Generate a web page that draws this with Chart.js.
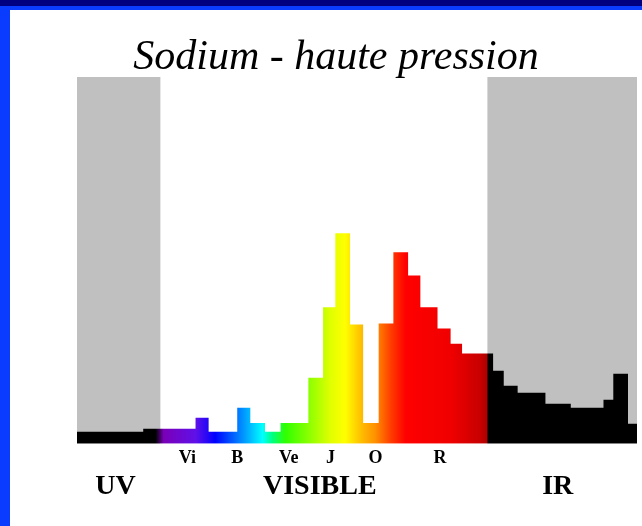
<!DOCTYPE html>
<html>
<head>
<meta charset="utf-8">
<script src="https://cdn.jsdelivr.net/npm/chart.js@4"></script>
<style>
  body { margin: 0; background: #fff; width: 642px; height: 526px; overflow: hidden; position: relative; }
  #topbar { position: absolute; left: 0; top: 0; width: 642px; height: 6px; background: #000080; }
  #topbar2 { position: absolute; left: 0; top: 6px; width: 642px; height: 4px; background: #0a3cff; }
  #leftbar { position: absolute; left: 0; top: 6px; width: 10px; height: 520px; background: #0a3cff; }
  #wrap { position: absolute; left: 10px; top: 10px; width: 632px; height: 516px; }
</style>
</head>
<body>
<div id="topbar"></div>
<div id="topbar2"></div>
<div id="leftbar"></div>
<div id="wrap"><canvas id="spectre"></canvas></div>
<script>
// bin edges (nm) and relative intensity of each bin
const binEdges = [278, 359, 380, 423, 439, 474, 490, 508, 527, 561, 579, 594, 612, 628, 647, 665, 683, 698, 719, 735, 749, 787, 800, 817, 851, 882, 922, 934, 952, 963]
const intensity = [3.3, 4.1, 4.1, 7.1, 3.3, 9.8, 5.7, 3.3, 5.7, 18.0, 37.2, 57.4, 32.5, 5.7, 32.8, 52.2, 45.9, 37.2, 31.4, 27.3, 24.6, 19.9, 15.8, 13.9, 10.9, 9.8, 12.0, 19.1, 5.5]

// invisible domains (UV / IR) shown as grey bands
const bandEdges = [278, 380, 780, 963]
const bandLevel = [100, 0, 100]

const colourNames = ['Vi', 'B', 'Ve', 'J', 'O', 'R']
const colourPos = [413, 474, 537, 588, 643, 722]
const domainNames = ['UV', 'VISIBLE', 'IR']
const domainPos = [325, 575, 866]

// colour of the light along the wavelength axis
const gradNm = [374, 384, 423, 447, 484, 505, 517, 533, 588, 606, 625, 643, 661, 680, 735, 771, 779, 781]
const gradCol = ['#000000', '#7a00b8', '#6010e8', '#0000ff', '#00a0ff', '#00ffff', '#00ff80', '#30ff00', '#e0ff00', '#ffff00', '#ffc000', '#ff9000', '#ff4000', '#ff0000', '#f00000', '#c80000', '#b00000', '#000000']

const toSteps = (edges, vals) => edges.map((x, i) => ({x: x, y: i < vals.length ? vals[i] : vals[vals.length - 1]}))

function spectrumFill(context) {
  const chart = context.chart
  const area = chart.chartArea
  if (!area) return '#000'
  const sx = chart.scales.x
  const x0 = sx.getPixelForValue(sx.min)
  const x1 = sx.getPixelForValue(sx.max)
  const g = chart.ctx.createLinearGradient(x0, 0, x1, 0)
  gradNm.forEach((nm, i) => {
    const t = (sx.getPixelForValue(nm) - x0) / (x1 - x0)
    g.addColorStop(Math.min(1, Math.max(0, t)), gradCol[i])
  })
  return g
}

const serif = '"Liberation Serif", "Times New Roman", serif'

new Chart(document.getElementById('spectre'), {
  type: 'line',
  data: {
    datasets: [{
      data: toSteps(binEdges, intensity),
      stepped: true,
      fill: 'origin',
      backgroundColor: spectrumFill,
      borderWidth: 0,
      pointRadius: 0
    }, {
      data: toSteps(bandEdges, bandLevel),
      stepped: true,
      fill: 'origin',
      backgroundColor: '#c0c0c0',
      borderWidth: 0,
      pointRadius: 0
    }]
  },
  options: {
    responsive: true,
    maintainAspectRatio: false,
    animation: false,
    layout: { padding: { left: 25, right: 5, top: 0, bottom: 25 } },
    plugins: {
      legend: { display: false },
      tooltip: { enabled: false },
      title: {
        display: true,
        text: 'Sodium - haute pression',
        color: '#000',
        font: { family: serif, size: 42, style: 'italic', weight: 'normal', lineHeight: 1 },
        padding: { top: 27, bottom: -2 }
      }
    },
    scales: {
      y: {
        min: 0, max: 100,
        ticks: { display: false },
        grid: { display: false, drawTicks: false },
        border: { display: false },
        afterFit: s => { s.width = 42 }
      },
      x: {
        type: 'linear', position: 'bottom', min: 278, max: 963,
        grid: { display: false, drawTicks: false },
        border: { display: false },
        afterBuildTicks: a => { a.ticks = colourPos.map(v => ({value: v})) },
        ticks: {
          autoSkip: false, maxRotation: 0, padding: 4, color: '#000',
          font: { family: serif, size: 18, weight: 'bold' },
          callback: (v, i) => colourNames[i]
        }
      },
      x2: {
        type: 'linear', position: 'bottom', min: 278, max: 963,
        grid: { display: false, drawTicks: false },
        border: { display: false },
        afterBuildTicks: a => { a.ticks = domainPos.map(v => ({value: v})) },
        ticks: {
          autoSkip: false, maxRotation: 0, padding: -3, color: '#000',
          font: { family: serif, size: 28, weight: 'bold' },
          callback: (v, i) => domainNames[i]
        }
      }
    }
  }
})
</script>
</body>
</html>
